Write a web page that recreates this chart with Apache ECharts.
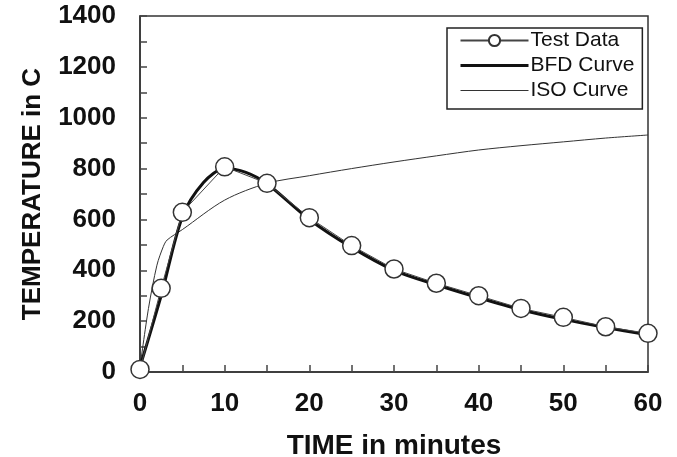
<!DOCTYPE html>
<html><head><meta charset="utf-8">
<script src="https://cdn.jsdelivr.net/npm/echarts@6/dist/echarts.min.js"></script>
<style>html,body{margin:0;padding:0;background:#fff}#c{width:677px;height:457px}</style>
</head><body><div id="c"></div>
<script>
var timeTest = [0, 2.5, 5, 10, 15, 20, 25, 30, 35, 40, 45, 50, 55, 60];
var tempTest = [10, 329, 628, 807, 742, 607, 497, 405, 349, 300, 250, 215, 178, 152];
var timeBFD = [0, 2.5, 5, 7.5, 10, 12.5, 15, 20, 25, 30, 35, 40, 45, 50, 55, 60];
var tempBFD = [20, 300, 610, 745, 800, 785, 740, 600, 490, 400, 343, 292, 245, 207, 175, 146];
var timeISO = [0, 1, 2, 2.75, 3.2, 5, 10, 15, 20, 25, 30, 35, 40, 45, 50, 55, 60];
var tempISO = [20, 250, 420, 493, 519, 560, 676, 742, 772, 800, 826, 850, 873, 890, 905, 920, 932];
var xTicks = [0, 10, 20, 30, 40, 50, 60];
var yTicks = [0, 200, 400, 600, 800, 1000, 1200, 1400];

function pairs(xs, ys){ return xs.map(function(x,i){ return [x, ys[i]]; }); }
var FONT = '"Liberation Sans", Arial, sans-serif';
var chart = echarts.init(document.getElementById('c'), null, {renderer:'canvas'});
chart.setOption({
  animation:false,
  backgroundColor:'#fff',
  grid:{left:140, right:29, top:16, bottom:85, containLabel:false, outerBoundsMode:'none',
    show:true, borderColor:'#333', borderWidth:1.5, backgroundColor:'transparent'},
  legend:{
    orient:'vertical', left:447, top:28,
    data:[
      {name:'Test Data'},
      {name:'BFD Curve', lineStyle:{width:3, color:'#111'}},
      {name:'ISO Curve', lineStyle:{width:1, color:'#333'}}
    ],
    borderColor:'#222', borderWidth:1.5, borderRadius:0,
    padding:[2,8,8,12], itemGap:4, itemWidth:68, itemHeight:14,
    backgroundColor:'#fff',
    textStyle:{fontFamily:FONT, fontSize:21, color:'#111', lineHeight:20, padding:[0,0,0,-3]}
  },
  xAxis:{
    type:'value', min:0, max:60, interval:5,
    name:'TIME in minutes', nameLocation:'middle', nameGap:60,
    nameTextStyle:{fontFamily:FONT, fontSize:28, fontWeight:'bold', color:'#111'},
    axisLine:{lineStyle:{color:'#333', width:1.5}},
    axisTick:{inside:true, length:7, lineStyle:{color:'#444', width:1.5}},
    axisLabel:{fontFamily:FONT, fontSize:26, fontWeight:'bold', color:'#111', margin:19,
      formatter:function(v){ return xTicks.indexOf(v) >= 0 ? String(v) : ''; }},
    splitLine:{show:false}
  },
  yAxis:{
    type:'value', min:0, max:1400, interval:100,
    name:'TEMPERATURE in C', nameLocation:'middle', nameGap:94, nameRotate:90,
    nameTextStyle:{fontFamily:FONT, fontSize:26, fontWeight:'bold', color:'#111'},
    axisLine:{show:true, lineStyle:{color:'#333', width:1.5}},
    axisTick:{show:true, inside:true, length:7, lineStyle:{color:'#444', width:1.5}},
    axisLabel:{fontFamily:FONT, fontSize:26, fontWeight:'bold', color:'#111', margin:24,
      formatter:function(v){ return yTicks.indexOf(v) >= 0 ? String(v) : ''; }},
    splitLine:{show:false}
  },
  series:[
    {name:'ISO Curve', type:'line', data:pairs(timeISO, tempISO), smooth:0.3, symbol:'none',
      color:'#333', itemStyle:{color:'#333', opacity:0},
      lineStyle:{color:'#333', width:1}, z:2},
    {name:'BFD Curve', type:'line', data:pairs(timeBFD, tempBFD), smooth:0.3, symbol:'none',
      color:'#111', itemStyle:{color:'#111', opacity:0},
      lineStyle:{color:'#111', width:3}, z:3},
    {name:'Test Data', type:'line', data:pairs(timeTest, tempTest), symbol:'circle', symbolSize:18,
      itemStyle:{color:'#fff', borderColor:'#333', borderWidth:1.5},
      lineStyle:{color:'#444', width:1}, z:4}
  ]
});
</script></body></html>
